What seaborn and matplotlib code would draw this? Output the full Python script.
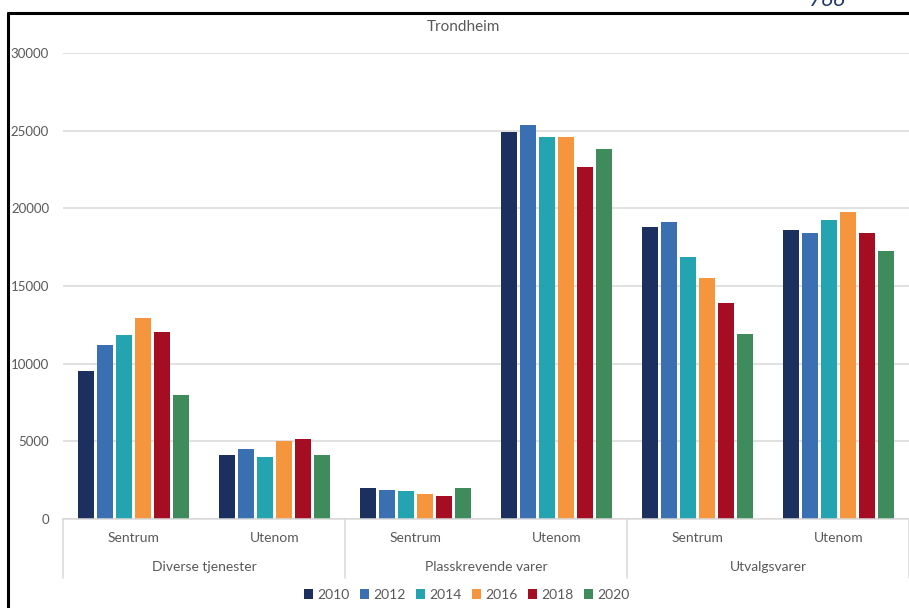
import matplotlib
matplotlib.use("Agg")
import matplotlib.pyplot as plt
from matplotlib.lines import Line2D
from matplotlib.patches import Patch
import seaborn as sns
import pandas as pd

# Data
years = ["2010", "2012", "2014", "2016", "2018", "2020"]
groups = ["Diverse tjenester", "Plasskrevende varer", "Utvalgsvarer"]
locations = ["Sentrum", "Utenom"]
values_2010 = [9550, 4100, 1980, 24900, 18820, 18630]
values_2012 = [11200, 4510, 1870, 25390, 19140, 18440]
values_2014 = [11850, 4010, 1820, 24620, 16850, 19230]
values_2016 = [12950, 5020, 1610, 24580, 15500, 19750]
values_2018 = [12050, 5150, 1480, 22690, 13890, 18440]
values_2020 = [7980, 4140, 2015, 23850, 11890, 17240]
yticks = [0, 5000, 10000, 15000, 20000, 25000, 30000]

colors = ["#1b305f", "#3a70b1", "#23a4b0", "#f5963f", "#a50d22", "#3f8b5b"]

series = [values_2010, values_2012, values_2014, values_2016, values_2018, values_2020]
segments = [f"{g}|{loc}" for g in groups for loc in locations]
rows = []
for yr, vals in zip(years, series):
    for seg, v in zip(segments, vals):
        rows.append({"segment": seg, "year": yr, "value": v})
df = pd.DataFrame(rows)

sns.set_theme(style="white")
plt.rcParams["font.family"] = ["Lato", "DejaVu Sans"]
text_color = "#595959"
grid_color = "#d9d9d9"

W, H = 909, 608
fig = plt.figure(figsize=(W / 100, H / 100), dpi=100)
fig.patch.set_facecolor("white")

# plot area in pixel terms: x 63..909, y 53 (30000) .. 519 (0)
left, right, top, bottom = 63, 909, 53, 519
ax = fig.add_axes([left / W, 1 - bottom / H, (right - left) / W, (bottom - top) / H])

sns.barplot(data=df, x="segment", y="value", hue="year", order=segments,
            hue_order=years, palette=colors, saturation=1, width=0.81, gap=0.2,
            linewidth=0, ax=ax, legend=False)

ax.set_xlim(-0.5, len(segments) - 0.5)
ax.set_ylim(0, 30000)
ax.set_yticks(yticks)
ax.set_yticklabels([str(t) for t in yticks], color=text_color, fontsize=9.5)
ax.tick_params(axis="y", length=0, pad=10)
ax.set_xticks([])
ax.set_xlabel("")
ax.set_ylabel("")
ax.yaxis.grid(True, color=grid_color, linewidth=1.1)
ax.set_axisbelow(True)
for s in ["top", "right", "left"]:
    ax.spines[s].set_visible(False)
ax.spines["bottom"].set_color(grid_color)
ax.spines["bottom"].set_linewidth(1.1)

# Two-level category axis
trans = ax.get_xaxis_transform()
axh = bottom - top
row1_y = -(538 - bottom) / axh
row2_y = -(567 - bottom) / axh
sep_y = -(578 - bottom) / axh
for i, seg in enumerate(segments):
    loc = seg.split("|")[1]
    ax.text(i, row1_y, loc, transform=trans, ha="center", va="center",
            color=text_color, fontsize=10, clip_on=False)
for j, g in enumerate(groups):
    ax.text(2 * j + 0.5, row2_y, g, transform=trans, ha="center", va="center",
            color=text_color, fontsize=10, clip_on=False)
for xs in [-0.5, 1.5, 3.5, 5.5]:
    ax.add_line(Line2D([xs, xs], [0, sep_y], transform=trans, color=grid_color,
                       linewidth=1.1, clip_on=False))

# Title
fig.text(463 / W, 1 - 27 / H, "Trondheim", ha="center", va="center",
         color=text_color, fontsize=11)

# Legend
handles = [Patch(facecolor=c, edgecolor="none", label=y) for c, y in zip(colors, years)]
fig.legend(handles=handles, loc="center", bbox_to_anchor=(467 / W, 1 - 595 / H),
           ncol=6, frameon=False, fontsize=10, handlelength=0.65, handleheight=0.65,
           handletextpad=0.3, columnspacing=0.75, labelcolor=text_color)

# Outer frame
fig.add_artist(Line2D([8 / W, 8 / W], [1 - 13 / H, 0], transform=fig.transFigure,
                      color="black", linewidth=2.2))
fig.add_artist(Line2D([8 / W, 1], [1 - 13 / H, 1 - 13 / H], transform=fig.transFigure,
                      color="black", linewidth=2.2))

# Page number in header
fig.text(846 / W, 1 - 6 / H, "766", ha="right", va="baseline", color="#1f3864",
         fontsize=16, style="italic")

fig.savefig("out.png", dpi=100)
